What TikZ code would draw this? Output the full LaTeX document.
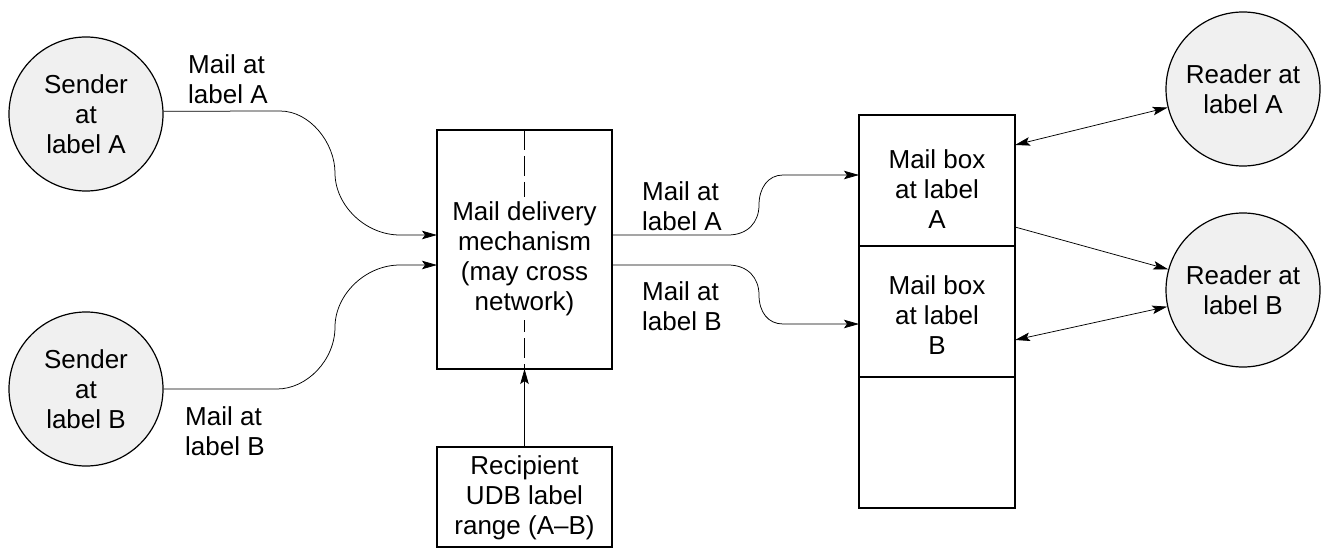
\documentclass[tikz,border=0pt]{standalone}
\usepackage{fontspec}
\setmainfont{Liberation Sans}
\usetikzlibrary{arrows.meta}
\definecolor{cfill}{HTML}{F0F0F0}
\begin{document}
\begin{tikzpicture}[x=1pt,y=-1pt,
  every node/.style={font=\fontsize{26}{30}\selectfont},
  party/.style={circle, draw, line width=1.2pt, fill=cfill, minimum size=154pt, inner sep=0pt, align=center},
  boxst/.style={rectangle, draw, line width=1.4pt, inner sep=0pt, outer sep=0pt, align=center},
  txt/.style={inner sep=0pt, align=center},
  lbl/.style={inner sep=0pt, align=left, anchor=north west},
  tip/.tip={Stealth[length=15pt,width=8.5pt,inset=3pt]},
  flow/.style={line width=0.75pt, -tip},
  flowtwo/.style={line width=0.75pt, tip-tip}
]
\useasboundingbox (0,0) rectangle (1321,548);

% senders
\node[party] (sA) at (86,114) {Sender\\at\\label A};
\node[party] (sB) at (86,389) {Sender\\at\\label B};

% delivery mechanism
\node[boxst, minimum width=175pt, minimum height=239pt] (dm) at (524.5,249.5) {};
\draw[line width=0.7pt, dash pattern=on 20pt off 6pt] (dm.north) -- (dm.south);
\node[txt, fill=white, inner sep=4pt] (dmt) at (524.5,258.5) {Mail delivery\\mechanism\\(may cross\\network)};

% recipient range
\node[boxst, minimum width=175pt, minimum height=100pt] (rc) at (524.5,497) {};
\node[txt] (rct) at (524.5,497.5) {Recipient\\UDB label\\range (A--B)};
\draw[flow] (rc.north) -- (dm.south);

% mailboxes
\node[boxst, minimum width=156pt, minimum height=131pt] (mbA) at (937,180.5) {};
\node[boxst, minimum width=156pt, minimum height=131pt] (mbB) at (937,311.5) {};
\node[boxst, minimum width=156pt, minimum height=131pt] (mbC) at (937,442.5) {};
\node[txt] (mbAt) at (937,189) {Mail box\\at label\\A};
\node[txt] (mbBt) at (937,315) {Mail box\\at label\\B};

% readers
\node[party] (rA) at (1243,89) {Reader at\\label A};
\node[party] (rB) at (1243,290) {Reader at\\label B};

% sender flows
\draw[flow] (sA.2) -- (280,111) .. controls (310,111) and (335,143) .. (335,173)
  .. controls (335,205) and (365,235) .. (400,235) -- (dm.west |- 0,235);
\draw[flow] (sB.east) -- (277,389) .. controls (307,389) and (335,360) .. (335,327)
  .. controls (335,295) and (365,265) .. (400,265) -- (dm.west |- 0,265);

% delivery flows
\draw[flow] (dm.east |- 0,235) -- (728,235) .. controls (748,235) and (759,222) .. (759,205)
  .. controls (759,188) and (768,175) .. (783,175) -- (mbA.west |- 0,175);
\draw[flow] (dm.east |- 0,265) -- (728,265) .. controls (748,265) and (759,278) .. (759,295)
  .. controls (759,312) and (768,324) .. (783,324) -- (mbB.west |- 0,324);

% reader links
\draw[flowtwo] (mbA.east |- 0,145) -- (rA);
\draw[flow] (mbA.east |- 0,227) -- (rB);
\draw[flowtwo] (mbB.east |- 0,340) -- (rB);

% labels
\node[lbl] (lA1) at (188,54) {Mail at\\label A};
\node[lbl] (lB1) at (185,406) {Mail at\\label B};
\node[lbl] (lA2) at (642,181) {Mail at\\label A};
\node[lbl] (lB2) at (642,281) {Mail at\\label B};
\end{tikzpicture}
\end{document}
